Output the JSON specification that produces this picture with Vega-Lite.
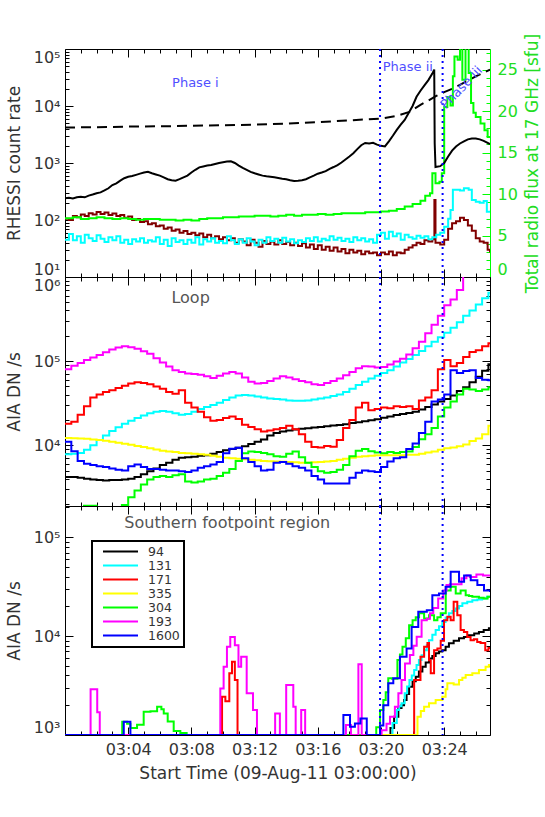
{
"$schema": "https://vega.github.io/schema/vega-lite/v6.json",
"autosize": {"type": "none"},
"padding": {"left": 65, "top": 49, "right": 480, "bottom": 768},
"background": "white",
"spacing": 0,
"bounds": "flush",
"datasets": {
"bk": [{"t":0,"v":240},{"t":0.25,"v":245},{"t":0.5,"v":238},{"t":0.75,"v":250},{"t":1,"v":255},{"t":1.25,"v":250},{"t":1.5,"v":268},{"t":1.75,"v":280},{"t":2,"v":295},{"t":2.25,"v":305},{"t":2.5,"v":330},{"t":2.75,"v":360},{"t":3,"v":410},{"t":3.25,"v":440},{"t":3.5,"v":490},{"t":3.75,"v":540},{"t":4,"v":575},{"t":4.25,"v":590},{"t":4.5,"v":620},{"t":4.75,"v":650},{"t":5,"v":680},{"t":5.25,"v":700},{"t":5.5,"v":660},{"t":5.75,"v":630},{"t":6,"v":600},{"t":6.25,"v":560},{"t":6.5,"v":520},{"t":6.75,"v":500},{"t":7,"v":490},{"t":7.25,"v":520},{"t":7.5,"v":560},{"t":7.75,"v":600},{"t":8,"v":680},{"t":8.25,"v":760},{"t":8.5,"v":840},{"t":8.75,"v":870},{"t":9,"v":900},{"t":9.25,"v":920},{"t":9.5,"v":960},{"t":9.75,"v":1000},{"t":10,"v":1030},{"t":10.25,"v":1060},{"t":10.5,"v":1070},{"t":10.75,"v":1000},{"t":11,"v":900},{"t":11.25,"v":820},{"t":11.5,"v":760},{"t":11.75,"v":700},{"t":12,"v":660},{"t":12.25,"v":630},{"t":12.5,"v":600},{"t":12.75,"v":585},{"t":13,"v":575},{"t":13.25,"v":560},{"t":13.5,"v":545},{"t":13.75,"v":530},{"t":14,"v":520},{"t":14.25,"v":500},{"t":14.5,"v":485},{"t":14.75,"v":490},{"t":15,"v":500},{"t":15.25,"v":520},{"t":15.5,"v":560},{"t":15.75,"v":600},{"t":16,"v":650},{"t":16.25,"v":680},{"t":16.5,"v":720},{"t":16.75,"v":790},{"t":17,"v":850},{"t":17.25,"v":920},{"t":17.5,"v":1020},{"t":17.75,"v":1150},{"t":18,"v":1300},{"t":18.25,"v":1480},{"t":18.5,"v":1750},{"t":18.75,"v":2050},{"t":19,"v":2250},{"t":19.25,"v":2200},{"t":19.5,"v":2260},{"t":19.75,"v":2100},{"t":20,"v":2000},{"t":20.25,"v":1950},{"t":20.5,"v":2400},{"t":20.75,"v":3000},{"t":21,"v":3800},{"t":21.25,"v":4700},{"t":21.5,"v":5700},{"t":21.75,"v":7500},{"t":22,"v":10000},{"t":22.25,"v":14500},{"t":22.5,"v":18500},{"t":22.75,"v":23000},{"t":23,"v":28500},{"t":23.25,"v":37000},{"t":23.37,"v":43600},{"t":23.4,"v":2200},{"t":23.45,"v":850},{"t":23.75,"v":880},{"t":24,"v":1000},{"t":24.25,"v":1300},{"t":24.5,"v":1650},{"t":24.75,"v":1950},{"t":25,"v":2200},{"t":25.25,"v":2400},{"t":25.5,"v":2600},{"t":25.75,"v":2700},{"t":26,"v":2700},{"t":26.25,"v":2600},{"t":26.5,"v":2450},{"t":26.75,"v":2250},{"t":26.9,"v":2140}],
"bg": [{"t":0,"v":4200},{"t":2,"v":4250},{"t":4,"v":4350},{"t":6,"v":4400},{"t":8,"v":4500},{"t":10,"v":4600},{"t":12,"v":4700},{"t":14,"v":4900},{"t":16,"v":5200},{"t":18,"v":5600},{"t":19,"v":5800},{"t":20,"v":6000},{"t":21,"v":6700},{"t":21.8,"v":7900},{"t":22.5,"v":10500},{"t":23,"v":12500},{"t":23.5,"v":15000},{"t":24,"v":17500},{"t":24.5,"v":20000},{"t":25,"v":23500},{"t":25.5,"v":28000},{"t":26,"v":33000},{"t":26.5,"v":38500},{"t":26.9,"v":43600}],
"mr": [{"t":0,"v":105},{"t":0.25,"v":100},{"t":0.5,"v":118},{"t":0.75,"v":112},{"t":1,"v":125},{"t":1.25,"v":118},{"t":1.5,"v":132},{"t":1.75,"v":125},{"t":2,"v":138},{"t":2.25,"v":128},{"t":2.5,"v":135},{"t":2.75,"v":122},{"t":3,"v":130},{"t":3.25,"v":118},{"t":3.5,"v":122},{"t":3.75,"v":110},{"t":4,"v":115},{"t":4.25,"v":100},{"t":4.5,"v":104},{"t":4.75,"v":92},{"t":5,"v":95},{"t":5.25,"v":84},{"t":5.5,"v":88},{"t":5.75,"v":78},{"t":6,"v":80},{"t":6.25,"v":70},{"t":6.5,"v":74},{"t":6.75,"v":65},{"t":7,"v":68},{"t":7.25,"v":60},{"t":7.5,"v":64},{"t":7.75,"v":57},{"t":8,"v":60},{"t":8.25,"v":54},{"t":8.5,"v":58},{"t":8.75,"v":50},{"t":9,"v":55},{"t":9.25,"v":48},{"t":9.5,"v":52},{"t":9.75,"v":46},{"t":10,"v":50},{"t":10.25,"v":44},{"t":10.5,"v":48},{"t":10.75,"v":40},{"t":11,"v":46},{"t":11.25,"v":42},{"t":11.5,"v":36},{"t":11.75,"v":45},{"t":12,"v":40},{"t":12.25,"v":34},{"t":12.5,"v":43},{"t":12.75,"v":38},{"t":13,"v":42},{"t":13.25,"v":37},{"t":13.5,"v":44},{"t":13.75,"v":38},{"t":14,"v":41},{"t":14.25,"v":36},{"t":14.5,"v":40},{"t":14.75,"v":35},{"t":15,"v":39},{"t":15.25,"v":33},{"t":15.5,"v":37},{"t":15.75,"v":31},{"t":16,"v":36},{"t":16.25,"v":30},{"t":16.5,"v":34},{"t":16.75,"v":29},{"t":17,"v":33},{"t":17.25,"v":28},{"t":17.5,"v":31},{"t":17.75,"v":26},{"t":18,"v":30},{"t":18.25,"v":27},{"t":18.5,"v":29},{"t":18.75,"v":25},{"t":19,"v":28},{"t":19.25,"v":26},{"t":19.5,"v":27},{"t":19.75,"v":24},{"t":20,"v":27},{"t":20.25,"v":25},{"t":20.5,"v":28},{"t":20.75,"v":24},{"t":21,"v":27},{"t":21.25,"v":26},{"t":21.5,"v":30},{"t":21.75,"v":33},{"t":22,"v":36},{"t":22.25,"v":40},{"t":22.5,"v":38},{"t":22.75,"v":44},{"t":23,"v":42},{"t":23.25,"v":46},{"t":23.38,"v":224},{"t":23.45,"v":40},{"t":23.75,"v":37},{"t":24,"v":45},{"t":24.25,"v":70},{"t":24.5,"v":88},{"t":24.75,"v":95},{"t":25,"v":110},{"t":25.25,"v":100},{"t":25.5,"v":80},{"t":25.75,"v":65},{"t":26,"v":48},{"t":26.25,"v":42},{"t":26.5,"v":40},{"t":26.75,"v":30},{"t":26.9,"v":27}],
"cy": [{"t":0,"v":45},{"t":0.25,"v":57},{"t":0.5,"v":44},{"t":0.75,"v":52},{"t":1,"v":40},{"t":1.25,"v":55},{"t":1.5,"v":48},{"t":1.75,"v":43},{"t":2,"v":54},{"t":2.25,"v":47},{"t":2.5,"v":41},{"t":2.75,"v":50},{"t":3,"v":44},{"t":3.25,"v":52},{"t":3.5,"v":40},{"t":3.75,"v":45},{"t":4,"v":38},{"t":4.25,"v":46},{"t":4.5,"v":42},{"t":4.75,"v":48},{"t":5,"v":40},{"t":5.25,"v":44},{"t":5.5,"v":42},{"t":5.75,"v":50},{"t":6,"v":38},{"t":6.25,"v":45},{"t":6.5,"v":35},{"t":6.75,"v":48},{"t":7,"v":41},{"t":7.25,"v":44},{"t":7.5,"v":38},{"t":7.75,"v":45},{"t":8,"v":40},{"t":8.25,"v":50},{"t":8.5,"v":37},{"t":8.75,"v":46},{"t":9,"v":42},{"t":9.25,"v":48},{"t":9.5,"v":40},{"t":9.75,"v":43},{"t":10,"v":39},{"t":10.25,"v":52},{"t":10.5,"v":44},{"t":10.75,"v":38},{"t":11,"v":46},{"t":11.25,"v":40},{"t":11.5,"v":48},{"t":11.75,"v":42},{"t":12,"v":36},{"t":12.25,"v":45},{"t":12.5,"v":40},{"t":12.75,"v":50},{"t":13,"v":43},{"t":13.25,"v":47},{"t":13.5,"v":40},{"t":13.75,"v":49},{"t":14,"v":42},{"t":14.25,"v":46},{"t":14.5,"v":39},{"t":14.75,"v":44},{"t":15,"v":41},{"t":15.25,"v":48},{"t":15.5,"v":43},{"t":15.75,"v":50},{"t":16,"v":42},{"t":16.25,"v":47},{"t":16.5,"v":44},{"t":16.75,"v":52},{"t":17,"v":45},{"t":17.25,"v":49},{"t":17.5,"v":43},{"t":17.75,"v":47},{"t":18,"v":41},{"t":18.25,"v":50},{"t":18.5,"v":44},{"t":18.75,"v":48},{"t":19,"v":42},{"t":19.25,"v":46},{"t":19.5,"v":40},{"t":19.75,"v":55},{"t":20,"v":60},{"t":20.25,"v":47},{"t":20.5,"v":62},{"t":20.75,"v":52},{"t":21,"v":58},{"t":21.25,"v":45},{"t":21.5,"v":55},{"t":21.75,"v":50},{"t":22,"v":47},{"t":22.25,"v":53},{"t":22.5,"v":49},{"t":22.75,"v":52},{"t":23,"v":46},{"t":23.25,"v":50},{"t":23.5,"v":55},{"t":23.75,"v":60},{"t":24,"v":76},{"t":24.25,"v":105},{"t":24.4,"v":150},{"t":24.55,"v":340},{"t":25,"v":330},{"t":25.25,"v":360},{"t":25.55,"v":340},{"t":25.75,"v":224},{"t":26,"v":210},{"t":26.25,"v":200},{"t":26.5,"v":215},{"t":26.7,"v":140},{"t":26.9,"v":140}],
"gr": [{"t":0,"v":7.1},{"t":0.5,"v":7.2},{"t":1,"v":7.0},{"t":1.5,"v":7.1},{"t":2,"v":7.2},{"t":2.5,"v":7.1},{"t":3,"v":7.0},{"t":3.5,"v":7.1},{"t":4,"v":7.0},{"t":4.5,"v":6.9},{"t":5,"v":7.0},{"t":5.5,"v":7.0},{"t":6,"v":6.9},{"t":6.5,"v":6.9},{"t":7,"v":6.8},{"t":7.5,"v":6.9},{"t":8,"v":6.8},{"t":8.5,"v":7.0},{"t":9,"v":7.1},{"t":9.5,"v":7.1},{"t":10,"v":7.2},{"t":10.5,"v":7.2},{"t":11,"v":7.3},{"t":11.5,"v":7.3},{"t":12,"v":7.4},{"t":12.5,"v":7.4},{"t":13,"v":7.3},{"t":13.5,"v":7.4},{"t":14,"v":7.5},{"t":14.5,"v":7.4},{"t":15,"v":7.5},{"t":15.5,"v":7.5},{"t":16,"v":7.6},{"t":16.5,"v":7.5},{"t":17,"v":7.6},{"t":17.5,"v":7.7},{"t":18,"v":7.7},{"t":18.5,"v":7.7},{"t":19,"v":7.8},{"t":19.5,"v":7.8},{"t":20,"v":7.9},{"t":20.5,"v":8.0},{"t":21,"v":8.2},{"t":21.5,"v":8.5},{"t":22,"v":8.8},{"t":22.5,"v":9.2},{"t":22.8,"v":9.8},{"t":23.1,"v":10.1},{"t":23.25,"v":12.5},{"t":23.45,"v":11.3},{"t":23.7,"v":11.5},{"t":23.85,"v":12.5},{"t":24,"v":20.5},{"t":24.2,"v":21.7},{"t":24.4,"v":20.7},{"t":24.55,"v":24.2},{"t":24.65,"v":26.6},{"t":24.85,"v":26.2},{"t":25,"v":30},{"t":25.15,"v":23.8},{"t":25.35,"v":30},{"t":25.55,"v":24.6},{"t":25.7,"v":21},{"t":25.85,"v":19.8},{"t":26,"v":19.3},{"t":26.3,"v":18.5},{"t":26.55,"v":17.7},{"t":26.75,"v":16.9},{"t":26.9,"v":16.9}],
"loop": [
{"t":0,"94":4200,"131":7800,"171":18000,"335":12200,"304":1500,"193":80000,"1600":11000},
{"t":0.4,"94":4200,"131":7900,"171":19000,"335":12100,"304":1500,"193":88000,"1600":8500},
{"t":0.8,"94":4100,"131":8100,"171":23000,"335":12000,"304":1700,"193":95000,"1600":6500},
{"t":1.2,"94":4000,"131":8800,"171":29000,"335":11900,"304":1900,"193":103000,"1600":6000},
{"t":1.6,"94":3900,"131":10000,"171":37000,"335":11700,"304":1900,"193":110000,"1600":5800},
{"t":2.0,"94":3850,"131":11500,"171":40000,"335":11500,"304":1700,"193":118000,"1600":5600},
{"t":2.4,"94":3800,"131":13000,"171":43000,"335":11300,"304":1600,"193":127000,"1600":5500},
{"t":2.8,"94":3850,"131":14700,"171":45000,"335":11000,"304":1600,"193":137000,"1600":5300},
{"t":3.2,"94":3850,"131":16300,"171":48000,"335":10700,"304":1700,"193":145000,"1600":5100},
{"t":3.6,"94":3900,"131":18000,"171":51000,"335":10400,"304":1950,"193":150000,"1600":5000},
{"t":4.0,"94":4000,"131":19500,"171":54000,"335":10100,"304":2400,"193":146000,"1600":5600},
{"t":4.4,"94":4200,"131":21000,"171":56000,"335":9800,"304":2900,"193":140000,"1600":5900},
{"t":4.8,"94":4500,"131":22500,"171":55000,"335":9500,"304":3400,"193":131000,"1600":5500},
{"t":5.2,"94":4900,"131":24000,"171":53000,"335":9200,"304":3900,"193":122000,"1600":5200},
{"t":5.6,"94":5300,"131":25000,"171":50000,"335":8900,"304":4200,"193":108000,"1600":5200},
{"t":6.0,"94":5800,"131":25500,"171":47000,"335":8600,"304":4300,"193":96000,"1600":5100},
{"t":6.4,"94":6200,"131":25000,"171":43000,"335":8400,"304":4200,"193":86000,"1600":5000},
{"t":6.8,"94":6700,"131":24000,"171":41000,"335":8300,"304":4400,"193":78000,"1600":5000},
{"t":7.2,"94":7100,"131":23000,"171":45000,"335":8100,"304":4500,"193":74000,"1600":4900},
{"t":7.6,"94":7200,"131":23500,"171":32000,"335":8000,"304":3700,"193":71000,"1600":4800},
{"t":8.0,"94":7300,"131":25000,"171":28000,"335":7900,"304":3600,"193":70000,"1600":5000},
{"t":8.4,"94":7500,"131":27000,"171":25000,"335":7800,"304":3700,"193":69000,"1600":5400},
{"t":8.8,"94":7600,"131":28500,"171":21500,"335":7700,"304":3900,"193":66000,"1600":5600},
{"t":9.2,"94":7900,"131":30000,"171":19500,"335":7500,"304":4000,"193":63000,"1600":5900},
{"t":9.6,"94":8300,"131":32000,"171":20000,"335":7300,"304":4300,"193":67000,"1600":6300},
{"t":10.0,"94":8700,"131":34500,"171":21000,"335":7100,"304":4700,"193":71000,"1600":8000},
{"t":10.4,"94":9000,"131":37000,"171":22000,"335":7000,"304":5200,"193":74000,"1600":9100},
{"t":10.8,"94":9300,"131":39000,"171":20500,"335":6900,"304":6500,"193":71000,"1600":9300},
{"t":11.2,"94":9700,"131":39500,"171":17500,"335":6800,"304":8000,"193":64000,"1600":7000},
{"t":11.6,"94":10300,"131":39000,"171":16500,"335":6700,"304":8400,"193":57000,"1600":6300},
{"t":12.0,"94":11000,"131":38000,"171":15500,"335":6600,"304":8300,"193":54000,"1600":5600},
{"t":12.4,"94":11700,"131":37000,"171":14500,"335":6500,"304":8100,"193":55000,"1600":5000},
{"t":12.8,"94":13000,"131":36000,"171":15000,"335":6450,"304":7800,"193":58000,"1600":5100},
{"t":13.2,"94":14000,"131":35500,"171":15500,"335":6400,"304":7400,"193":62000,"1600":6200},
{"t":13.6,"94":14500,"131":35000,"171":16000,"335":6350,"304":7300,"193":66000,"1600":6300},
{"t":14.0,"94":15000,"131":34000,"171":17000,"335":6300,"304":7900,"193":64000,"1600":6000},
{"t":14.4,"94":15400,"131":33800,"171":15500,"335":6250,"304":8400,"193":61000,"1600":5600},
{"t":14.8,"94":15700,"131":33800,"171":13500,"335":6200,"304":7200,"193":58000,"1600":5400},
{"t":15.2,"94":15900,"131":34000,"171":11000,"335":6200,"304":6200,"193":56000,"1600":5000},
{"t":15.6,"94":16200,"131":35000,"171":9500,"335":6250,"304":5500,"193":53000,"1600":4300},
{"t":16.0,"94":16500,"131":36000,"171":9400,"335":6300,"304":4900,"193":52000,"1600":3900},
{"t":16.4,"94":16800,"131":37000,"171":9800,"335":6400,"304":4700,"193":55000,"1600":3500},
{"t":16.8,"94":17100,"131":38500,"171":9600,"335":6500,"304":4800,"193":58000,"1600":3500},
{"t":17.2,"94":17400,"131":40000,"171":11500,"335":6700,"304":5100,"193":62000,"1600":3500},
{"t":17.6,"94":17800,"131":43000,"171":16000,"335":6900,"304":5800,"193":68000,"1600":3500},
{"t":18.0,"94":18300,"131":47000,"171":20000,"335":7100,"304":7400,"193":74000,"1600":4100},
{"t":18.4,"94":18800,"131":52000,"171":28000,"335":7300,"304":8600,"193":82000,"1600":4700},
{"t":18.8,"94":19300,"131":57000,"171":32000,"335":7400,"304":9000,"193":87000,"1600":5000},
{"t":19.2,"94":19800,"131":62000,"171":26000,"335":7500,"304":8500,"193":86000,"1600":4900},
{"t":19.6,"94":20400,"131":67000,"171":27000,"335":7600,"304":8200,"193":84000,"1600":4800},
{"t":20.0,"94":21200,"131":72000,"171":28000,"335":7600,"304":8000,"193":85000,"1600":5500},
{"t":20.4,"94":22000,"131":78000,"171":27500,"335":7600,"304":8300,"193":91000,"1600":6400},
{"t":20.8,"94":22800,"131":86000,"171":29000,"335":7600,"304":8100,"193":99000,"1600":7000},
{"t":21.2,"94":23500,"131":96000,"171":28500,"335":7600,"304":8300,"193":107000,"1600":7200},
{"t":21.6,"94":24200,"131":106000,"171":29000,"335":7700,"304":8400,"193":120000,"1600":9000},
{"t":22.0,"94":25000,"131":118000,"171":27000,"335":7700,"304":9500,"193":142000,"1600":10500},
{"t":22.4,"94":26500,"131":132000,"171":34000,"335":7900,"304":11800,"193":170000,"1600":14000},
{"t":22.8,"94":28500,"131":150000,"171":37000,"335":8200,"304":13500,"193":215000,"1600":19000},
{"t":23.2,"94":30500,"131":170000,"171":45000,"335":8400,"304":16000,"193":270000,"1600":33000},
{"t":23.6,"94":33000,"131":192000,"171":80000,"335":8800,"304":22000,"193":345000,"1600":35000},
{"t":24.0,"94":35500,"131":218000,"171":103000,"335":9200,"304":28000,"193":460000,"1600":40000},
{"t":24.4,"94":39000,"131":250000,"171":87000,"335":9400,"304":33000,"193":540000,"1600":78000},
{"t":24.8,"94":44000,"131":290000,"171":95000,"335":9700,"304":40000,"193":700000,"1600":72000},
{"t":25.2,"94":49000,"131":345000,"171":112000,"335":10200,"304":47000,"193":1500000,"1600":76000},
{"t":25.6,"94":56000,"131":400000,"171":128000,"335":11200,"304":46000,"193":1800000,"1600":78000},
{"t":26.0,"94":65000,"131":470000,"171":135000,"335":12000,"304":44000,"193":2000000,"1600":63000},
{"t":26.4,"94":77000,"131":560000,"171":150000,"335":13500,"304":46000,"193":2200000,"1600":60000},
{"t":26.8,"94":92000,"131":650000,"171":163000,"335":17000,"304":49000,"193":2400000,"1600":59000},
{"t":26.9,"94":94000,"131":670000,"171":163000,"335":17400,"304":49000,"193":2400000,"1600":59000}
],
"foot": [
{"ch":"94","t":0,"v":1000},{"ch":"94","t":20.6,"v":1180},{"ch":"94","t":20.83,"v":1530},{"ch":"94","t":21.1,"v":1870},{"ch":"94","t":21.3,"v":2000},{"ch":"94","t":21.46,"v":2260},{"ch":"94","t":21.62,"v":2600},{"ch":"94","t":21.78,"v":3070},{"ch":"94","t":22.0,"v":3500},{"ch":"94","t":22.2,"v":3880},{"ch":"94","t":22.4,"v":4400},{"ch":"94","t":22.62,"v":4900},{"ch":"94","t":22.83,"v":5400},{"ch":"94","t":23.04,"v":5950},{"ch":"94","t":23.25,"v":6300},{"ch":"94","t":23.46,"v":6700},{"ch":"94","t":23.67,"v":7000},{"ch":"94","t":23.88,"v":7200},{"ch":"94","t":24.09,"v":7800},{"ch":"94","t":24.3,"v":8450},{"ch":"94","t":24.6,"v":9000},{"ch":"94","t":24.94,"v":9500},{"ch":"94","t":25.25,"v":9800},{"ch":"94","t":25.57,"v":10200},{"ch":"94","t":25.9,"v":10600},{"ch":"94","t":26.2,"v":11000},{"ch":"94","t":26.5,"v":11500},{"ch":"94","t":26.83,"v":12000},{"ch":"94","t":26.9,"v":12000},
{"ch":"131","t":0,"v":1000},{"ch":"131","t":20.73,"v":1320},{"ch":"131","t":21.0,"v":1790},{"ch":"131","t":21.15,"v":1950},{"ch":"131","t":21.3,"v":2100},{"ch":"131","t":21.5,"v":2640},{"ch":"131","t":21.65,"v":3100},{"ch":"131","t":21.8,"v":3600},{"ch":"131","t":21.95,"v":4000},{"ch":"131","t":22.1,"v":4540},{"ch":"131","t":22.25,"v":5100},{"ch":"131","t":22.4,"v":5730},{"ch":"131","t":22.57,"v":6400},{"ch":"131","t":22.73,"v":7200},{"ch":"131","t":22.9,"v":8100},{"ch":"131","t":23.04,"v":9100},{"ch":"131","t":23.25,"v":10300},{"ch":"131","t":23.46,"v":11500},{"ch":"131","t":23.67,"v":12600},{"ch":"131","t":23.88,"v":13900},{"ch":"131","t":24.09,"v":15400},{"ch":"131","t":24.3,"v":17000},{"ch":"131","t":24.52,"v":18000},{"ch":"131","t":24.73,"v":19000},{"ch":"131","t":24.94,"v":20200},{"ch":"131","t":25.15,"v":21500},{"ch":"131","t":25.46,"v":22300},{"ch":"131","t":25.78,"v":23000},{"ch":"131","t":26.1,"v":23500},{"ch":"131","t":26.4,"v":24000},{"ch":"131","t":26.7,"v":25000},{"ch":"131","t":26.9,"v":25000},
{"ch":"171","t":0,"v":1000},{"ch":"171","t":9.94,"v":2440},{"ch":"171","t":10.15,"v":2200},{"ch":"171","t":10.4,"v":4200},{"ch":"171","t":10.57,"v":5500},{"ch":"171","t":10.75,"v":3600},{"ch":"171","t":10.92,"v":1000},{"ch":"171","t":22.1,"v":3600},{"ch":"171","t":22.5,"v":6200},{"ch":"171","t":22.73,"v":7800},{"ch":"171","t":22.94,"v":8500},{"ch":"171","t":23.04,"v":5700},{"ch":"171","t":23.15,"v":4200},{"ch":"171","t":23.36,"v":7200},{"ch":"171","t":23.57,"v":7500},{"ch":"171","t":23.78,"v":9000},{"ch":"171","t":23.99,"v":14500},{"ch":"171","t":24.2,"v":15700},{"ch":"171","t":24.41,"v":14500},{"ch":"171","t":24.6,"v":22300},{"ch":"171","t":24.83,"v":16300},{"ch":"171","t":25.04,"v":11500},{"ch":"171","t":25.25,"v":11000},{"ch":"171","t":25.46,"v":9800},{"ch":"171","t":25.67,"v":9100},{"ch":"171","t":25.88,"v":9300},{"ch":"171","t":26.09,"v":8700},{"ch":"171","t":26.3,"v":8500},{"ch":"171","t":26.6,"v":7200},{"ch":"171","t":26.8,"v":7600},{"ch":"171","t":26.9,"v":7600},
{"ch":"335","t":0,"v":1000},{"ch":"335","t":22.31,"v":1530},{"ch":"335","t":22.52,"v":1750},{"ch":"335","t":22.73,"v":1930},{"ch":"335","t":23.04,"v":2100},{"ch":"335","t":23.46,"v":2260},{"ch":"335","t":23.88,"v":2440},{"ch":"335","t":24.09,"v":2900},{"ch":"335","t":24.2,"v":3330},{"ch":"335","t":24.6,"v":3250},{"ch":"335","t":24.94,"v":3600},{"ch":"335","t":25.15,"v":3800},{"ch":"335","t":25.36,"v":4050},{"ch":"335","t":25.78,"v":4200},{"ch":"335","t":26.2,"v":4540},{"ch":"335","t":26.62,"v":4900},{"ch":"335","t":26.83,"v":5100},{"ch":"335","t":26.9,"v":5100},
{"ch":"304","t":0,"v":1000},{"ch":"304","t":3.62,"v":1360},{"ch":"304","t":3.93,"v":1300},{"ch":"304","t":4.14,"v":1180},{"ch":"304","t":4.56,"v":1270},{"ch":"304","t":4.98,"v":1720},{"ch":"304","t":5.41,"v":1740},{"ch":"304","t":5.83,"v":1930},{"ch":"304","t":6.1,"v":1820},{"ch":"304","t":6.25,"v":1650},{"ch":"304","t":6.5,"v":1370},{"ch":"304","t":6.88,"v":1100},{"ch":"304","t":7.3,"v":1050},{"ch":"304","t":7.7,"v":1000},{"ch":"304","t":19.7,"v":1200},{"ch":"304","t":19.94,"v":1790},{"ch":"304","t":20.15,"v":2260},{"ch":"304","t":20.3,"v":2700},{"ch":"304","t":20.46,"v":3750},{"ch":"304","t":20.7,"v":3700},{"ch":"304","t":21.04,"v":5730},{"ch":"304","t":21.2,"v":6500},{"ch":"304","t":21.36,"v":7800},{"ch":"304","t":21.57,"v":9500},{"ch":"304","t":21.78,"v":12900},{"ch":"304","t":22.0,"v":14500},{"ch":"304","t":22.2,"v":15500},{"ch":"304","t":22.41,"v":17000},{"ch":"304","t":22.73,"v":15100},{"ch":"304","t":23.04,"v":16300},{"ch":"304","t":23.36,"v":14500},{"ch":"304","t":23.57,"v":15500},{"ch":"304","t":23.78,"v":17000},{"ch":"304","t":24.1,"v":29000},{"ch":"304","t":24.41,"v":31500},{"ch":"304","t":24.73,"v":27000},{"ch":"304","t":25.04,"v":29000},{"ch":"304","t":25.36,"v":25900},{"ch":"304","t":25.57,"v":25500},{"ch":"304","t":25.78,"v":25000},{"ch":"304","t":26.2,"v":24500},{"ch":"304","t":26.5,"v":24000},{"ch":"304","t":26.75,"v":25000},{"ch":"304","t":26.9,"v":25000},
{"ch":"193","t":0,"v":1000},{"ch":"193","t":1.62,"v":2900},{"ch":"193","t":2.04,"v":1700},{"ch":"193","t":2.2,"v":1000},{"ch":"193","t":9.83,"v":2950},{"ch":"193","t":10.04,"v":4900},{"ch":"193","t":10.25,"v":7800},{"ch":"193","t":10.46,"v":9800},{"ch":"193","t":10.75,"v":8100},{"ch":"193","t":10.98,"v":4900},{"ch":"193","t":11.15,"v":6200},{"ch":"193","t":11.5,"v":2640},{"ch":"193","t":11.9,"v":1790},{"ch":"193","t":12.15,"v":1000},{"ch":"193","t":13.3,"v":1650},{"ch":"193","t":13.6,"v":1000},{"ch":"193","t":14.0,"v":3200},{"ch":"193","t":14.45,"v":1930},{"ch":"193","t":14.6,"v":1000},{"ch":"193","t":14.95,"v":1790},{"ch":"193","t":15.2,"v":1000},{"ch":"193","t":17.78,"v":1260},{"ch":"193","t":18.1,"v":1000},{"ch":"193","t":18.57,"v":5200},{"ch":"193","t":18.78,"v":1000},{"ch":"193","t":20.04,"v":1120},{"ch":"193","t":20.35,"v":1300},{"ch":"193","t":20.57,"v":1530},{"ch":"193","t":20.88,"v":1930},{"ch":"193","t":21.1,"v":2640},{"ch":"193","t":21.3,"v":3600},{"ch":"193","t":21.52,"v":5300},{"ch":"193","t":21.83,"v":6430},{"ch":"193","t":22.05,"v":8000},{"ch":"193","t":22.26,"v":9840},{"ch":"193","t":22.57,"v":14500},{"ch":"193","t":22.9,"v":15000},{"ch":"193","t":23.1,"v":17000},{"ch":"193","t":23.31,"v":19200},{"ch":"193","t":23.62,"v":24000},{"ch":"193","t":23.94,"v":29000},{"ch":"193","t":24.15,"v":32800},{"ch":"193","t":24.36,"v":33500},{"ch":"193","t":24.8,"v":33500},{"ch":"193","t":25.1,"v":38500},{"ch":"193","t":25.41,"v":41000},{"ch":"193","t":25.62,"v":39600},{"ch":"193","t":26.04,"v":42000},{"ch":"193","t":26.46,"v":41000},{"ch":"193","t":26.9,"v":41000},
{"ch":"1600","t":0,"v":1000},{"ch":"1600","t":3.72,"v":1360},{"ch":"1600","t":4.14,"v":1000},{"ch":"1600","t":17.62,"v":1590},{"ch":"1600","t":18.04,"v":1210},{"ch":"1600","t":18.35,"v":1310},{"ch":"1600","t":18.7,"v":1470},{"ch":"1600","t":19.1,"v":1000},{"ch":"1600","t":19.94,"v":1250},{"ch":"1600","t":20.15,"v":2000},{"ch":"1600","t":20.46,"v":3330},{"ch":"1600","t":20.78,"v":3740},{"ch":"1600","t":21.2,"v":6180},{"ch":"1600","t":21.62,"v":7500},{"ch":"1600","t":21.94,"v":12400},{"ch":"1600","t":22.36,"v":17600},{"ch":"1600","t":22.9,"v":18300},{"ch":"1600","t":23.25,"v":25900},{"ch":"1600","t":23.67,"v":27000},{"ch":"1600","t":24.09,"v":31500},{"ch":"1600","t":24.41,"v":44700},{"ch":"1600","t":24.94,"v":35500},{"ch":"1600","t":25.26,"v":41000},{"ch":"1600","t":25.68,"v":36700},{"ch":"1600","t":26.1,"v":32800},{"ch":"1600","t":26.52,"v":29000},{"ch":"1600","t":26.9,"v":28000}
]
},
"vconcat": [
{
"width": 425, "height": 228,
"layer": [
{"data": {"name": "bk"}, "mark": {"type": "point", "opacity": 0},
 "encoding": {
  "x": {"field": "t", "type": "quantitative", "scale": {"domain": [0, 26.9], "nice": false, "zero": false}, "axis": {"orient": "bottom", "values": [4,8,12,16,20,24], "tickSize": -8, "labels": false, "title": null}},
  "y": {"field": "v", "type": "quantitative", "scale": {"type": "log", "domain": [10, 100000], "nice": false}, "axis": {"orient": "left", "values": [10,100,1000,10000,100000], "tickSize": -8, "labelPadding": 13, "labelFlush": true, "labelOverlap": false, "labelExpr": "'10' + ['⁰','¹','²','³','⁴','⁵','⁶'][round(log(datum.value)/LN10)]", "title": "RHESSI count rate", "titlePadding": 10}}
 }},
{"data": {"name": "bk"}, "mark": {"type": "point", "opacity": 0},
 "encoding": {
  "x": {"field": "t", "type": "quantitative", "scale": {"domain": [0, 26.9], "nice": false, "zero": false}, "axis": {"orient": "bottom", "values": [1,2,3,5,6,7,9,10,11,13,14,15,17,18,19,21,22,23,25,26], "tickSize": -4, "labels": false, "domain": false, "title": null}},
  "y": {"field": "v", "type": "quantitative", "scale": {"type": "log", "domain": [10, 100000], "nice": false}, "axis": {"orient": "left", "values": [20,30,40,50,60,70,80,90,200,300,400,500,600,700,800,900,2000,3000,4000,5000,6000,7000,8000,9000,20000,30000,40000,50000,60000,70000,80000,90000], "tickSize": -4, "labels": false, "domain": false, "title": null}}
 }},
{"data": {"name": "gr"}, "mark": {"type": "point", "opacity": 0},
 "encoding": {
  "x": {"field": "t", "type": "quantitative", "scale": {"domain": [0, 26.9], "nice": false, "zero": false}, "axis": {"orient": "top", "values": [4,8,12,16,20,24], "tickSize": -8, "labels": false, "title": null}},
  "y": {"field": "v", "type": "quantitative", "scale": {"domain": [0, 27.5], "nice": false, "zero": false}, "axis": {"orient": "right", "values": [0,5,10,15,20,25], "tickSize": -8, "labelPadding": 15, "labelFlush": true, "labelColor": "#22dd22", "domainColor": "#00ff00", "tickColor": "#00ff00", "title": "Total radio flux at 17 GHz [sfu]", "titleColor": "#22dd22", "titleAngle": 270, "titlePadding": 24}}
 }},
{"data": {"name": "gr"}, "mark": {"type": "point", "opacity": 0},
 "encoding": {
  "x": {"field": "t", "type": "quantitative", "scale": {"domain": [0, 26.9], "nice": false, "zero": false}, "axis": {"orient": "top", "values": [1,2,3,5,6,7,9,10,11,13,14,15,17,18,19,21,22,23,25,26], "tickSize": -4, "labels": false, "domain": false, "title": null}},
  "y": {"field": "v", "type": "quantitative", "scale": {"domain": [0, 27.5], "nice": false, "zero": false}, "axis": {"orient": "right", "values": [1,2,3,4,6,7,8,9,11,12,13,14,16,17,18,19,21,22,23,24,26,27], "tickSize": -4, "labels": false, "domain": false, "tickColor": "#00ff00", "title": null}}
 }},
{"data": {"name": "bg"}, "mark": {"type": "line", "color": "#000000", "strokeWidth": 2, "strokeDash": [10, 6], "clip": true},
 "encoding": {
  "x": {"field": "t", "type": "quantitative", "scale": {"domain": [0, 26.9], "nice": false, "zero": false}, "axis": null},
  "y": {"field": "v", "type": "quantitative", "scale": {"type": "log", "domain": [10, 100000], "nice": false}, "axis": null}
 }},
{"data": {"name": "mr"}, "mark": {"type": "line", "color": "#800000", "strokeWidth": 2, "interpolate": "step-after", "clip": true},
 "encoding": {
  "x": {"field": "t", "type": "quantitative", "scale": {"domain": [0, 26.9], "nice": false, "zero": false}, "axis": null},
  "y": {"field": "v", "type": "quantitative", "scale": {"type": "log", "domain": [10, 100000], "nice": false}, "axis": null}
 }},
{"data": {"name": "cy"}, "mark": {"type": "line", "color": "#00ffff", "strokeWidth": 2, "interpolate": "step-after", "clip": true},
 "encoding": {
  "x": {"field": "t", "type": "quantitative", "scale": {"domain": [0, 26.9], "nice": false, "zero": false}, "axis": null},
  "y": {"field": "v", "type": "quantitative", "scale": {"type": "log", "domain": [10, 100000], "nice": false}, "axis": null}
 }},
{"data": {"name": "gr"}, "mark": {"type": "line", "color": "#00ff00", "strokeWidth": 2, "interpolate": "step-after", "clip": true},
 "encoding": {
  "x": {"field": "t", "type": "quantitative", "scale": {"domain": [0, 26.9], "nice": false, "zero": false}, "axis": null},
  "y": {"field": "v", "type": "quantitative", "scale": {"domain": [0, 27.5], "nice": false, "zero": false}, "axis": null}
 }},
{"data": {"name": "bk"}, "mark": {"type": "line", "color": "#000000", "strokeWidth": 2, "clip": true},
 "encoding": {
  "x": {"field": "t", "type": "quantitative", "scale": {"domain": [0, 26.9], "nice": false, "zero": false}, "axis": null},
  "y": {"field": "v", "type": "quantitative", "scale": {"type": "log", "domain": [10, 100000], "nice": false}, "axis": null}
 }},
{"data": {"values": [{"t": 19.94}, {"t": 23.9}]}, "mark": {"type": "rule", "color": "#0000ff", "strokeWidth": 2, "strokeDash": [2, 4]},
 "encoding": {"x": {"field": "t", "type": "quantitative", "scale": {"domain": [0, 26.9], "nice": false, "zero": false}, "axis": null}}},
{"data": {"values": [{"t": 8.25, "v": 25000, "label": "Phase i"}, {"t": 21.7, "v": 48000, "label": "Phase ii"}]},
 "mark": {"type": "text", "color": "#5050ff", "fontSize": 13, "font": "DejaVu Sans", "align": "center", "baseline": "middle"},
 "encoding": {
  "x": {"field": "t", "type": "quantitative", "scale": {"domain": [0, 26.9], "nice": false, "zero": false}, "axis": null},
  "y": {"field": "v", "type": "quantitative", "scale": {"type": "log", "domain": [10, 100000], "nice": false}, "axis": null},
  "text": {"field": "label"}
 }},
{"data": {"values": [{"t": 25.1, "v": 21000, "label": "Phase iii"}]},
 "mark": {"type": "text", "color": "#5050ff", "fontSize": 13, "font": "DejaVu Sans", "align": "center", "baseline": "middle", "angle": 314},
 "encoding": {
  "x": {"field": "t", "type": "quantitative", "scale": {"domain": [0, 26.9], "nice": false, "zero": false}, "axis": null},
  "y": {"field": "v", "type": "quantitative", "scale": {"type": "log", "domain": [10, 100000], "nice": false}, "axis": null},
  "text": {"field": "label"}
 }}
],
"resolve": {"scale": {"y": "independent"}, "axis": {"x": "independent", "y": "independent"}}
},
{
"width": 425, "height": 229,
"data": {"name": "loop"},
"transform": [{"fold": ["94","131","171","335","304","193","1600"], "as": ["ch", "v"]}],
"layer": [
{"mark": {"type": "point", "opacity": 0},
 "encoding": {
  "x": {"field": "t", "type": "quantitative", "scale": {"domain": [0, 26.9], "nice": false, "zero": false}, "axis": {"orient": "bottom", "values": [4,8,12,16,20,24], "tickSize": -8, "labels": false, "title": null}},
  "y": {"field": "v", "type": "quantitative", "scale": {"type": "log", "domain": [1892, 1000000], "nice": false}, "axis": {"orient": "left", "values": [10000,100000,1000000], "tickSize": -8, "labelPadding": 13, "labelFlush": true, "labelOverlap": false, "labelExpr": "'10' + ['⁰','¹','²','³','⁴','⁵','⁶'][round(log(datum.value)/LN10)]", "title": "AIA DN  /s", "titlePadding": 10}}
 }},
{"mark": {"type": "point", "opacity": 0},
 "encoding": {
  "x": {"field": "t", "type": "quantitative", "scale": {"domain": [0, 26.9], "nice": false, "zero": false}, "axis": {"orient": "bottom", "values": [1,2,3,5,6,7,9,10,11,13,14,15,17,18,19,21,22,23,25,26], "tickSize": -4, "labels": false, "domain": false, "title": null}},
  "y": {"field": "v", "type": "quantitative", "scale": {"type": "log", "domain": [1892, 1000000], "nice": false}, "axis": {"orient": "left", "values": [2000,3000,4000,5000,6000,7000,8000,9000,20000,30000,40000,50000,60000,70000,80000,90000,200000,300000,400000,500000,600000,700000,800000,900000], "tickSize": -4, "labels": false, "domain": false, "title": null}}
 }},
{"mark": {"type": "point", "opacity": 0},
 "encoding": {
  "x": {"field": "t", "type": "quantitative", "scale": {"domain": [0, 26.9], "nice": false, "zero": false}, "axis": {"orient": "top", "values": [4,8,12,16,20,24], "tickSize": -8, "labels": false, "title": null}},
  "y": {"field": "v", "type": "quantitative", "scale": {"type": "log", "domain": [1892, 1000000], "nice": false}, "axis": {"orient": "right", "values": [10000,100000,1000000], "tickSize": -8, "labels": false, "title": null}}
 }},
{"mark": {"type": "point", "opacity": 0},
 "encoding": {
  "x": {"field": "t", "type": "quantitative", "scale": {"domain": [0, 26.9], "nice": false, "zero": false}, "axis": {"orient": "top", "values": [1,2,3,5,6,7,9,10,11,13,14,15,17,18,19,21,22,23,25,26], "tickSize": -4, "labels": false, "domain": false, "title": null}},
  "y": {"field": "v", "type": "quantitative", "scale": {"type": "log", "domain": [1892, 1000000], "nice": false}, "axis": {"orient": "right", "values": [2000,3000,4000,5000,6000,7000,8000,9000,20000,30000,40000,50000,60000,70000,80000,90000,200000,300000,400000,500000,600000,700000,800000,900000], "tickSize": -4, "labels": false, "domain": false, "title": null}}
 }},
{"mark": {"type": "line", "strokeWidth": 2, "interpolate": "step-after", "clip": true},
 "encoding": {
  "x": {"field": "t", "type": "quantitative", "scale": {"domain": [0, 26.9], "nice": false, "zero": false}, "axis": null},
  "y": {"field": "v", "type": "quantitative", "scale": {"type": "log", "domain": [1892, 1000000], "nice": false}, "axis": null},
  "color": {"field": "ch", "type": "nominal", "scale": {"domain": ["94","131","171","335","304","193","1600"], "range": ["#000000","#00ffff","#ff0000","#ffff00","#00ff00","#ff00ff","#0000ff"]}, "legend": {"title": null}}
 }},
{"data": {"values": [{"t": 19.94}, {"t": 23.9}]}, "mark": {"type": "rule", "color": "#0000ff", "strokeWidth": 2, "strokeDash": [2, 4]},
 "encoding": {"x": {"field": "t", "type": "quantitative", "scale": {"domain": [0, 26.9], "nice": false, "zero": false}, "axis": null}}},
{"data": {"values": [{"t": 7.95, "v": 562000, "label": "Loop"}]},
 "mark": {"type": "text", "color": "#555555", "fontSize": 16, "font": "DejaVu Sans", "align": "center", "baseline": "middle"},
 "encoding": {
  "x": {"field": "t", "type": "quantitative", "scale": {"domain": [0, 26.9], "nice": false, "zero": false}, "axis": null},
  "y": {"field": "v", "type": "quantitative", "scale": {"type": "log", "domain": [1892, 1000000], "nice": false}, "axis": null},
  "text": {"field": "label"}
 }}
],
"resolve": {"axis": {"x": "independent", "y": "independent"}}
},
{
"width": 425, "height": 229,
"data": {"name": "foot"},
"layer": [
{"mark": {"type": "point", "opacity": 0},
 "encoding": {
  "x": {"field": "t", "type": "quantitative", "scale": {"domain": [0, 26.9], "nice": false, "zero": false}, "axis": {"orient": "bottom", "values": [4,8,12,16,20,24], "tickSize": -8, "labelPadding": 14, "labelFlush": false, "labelExpr": "'03:' + (datum.value < 10 ? '0' : '') + datum.value", "title": "Start Time (09-Aug-11 03:00:00)", "titlePadding": 8}},
  "y": {"field": "v", "type": "quantitative", "scale": {"type": "log", "domain": [1000, 207000], "nice": false}, "axis": {"orient": "left", "values": [1000,10000,100000], "tickSize": -8, "labelPadding": 13, "labelFlush": true, "labelOverlap": false, "labelExpr": "'10' + ['⁰','¹','²','³','⁴','⁵','⁶'][round(log(datum.value)/LN10)]", "title": "AIA DN  /s", "titlePadding": 10}}
 }},
{"mark": {"type": "point", "opacity": 0},
 "encoding": {
  "x": {"field": "t", "type": "quantitative", "scale": {"domain": [0, 26.9], "nice": false, "zero": false}, "axis": {"orient": "bottom", "values": [1,2,3,5,6,7,9,10,11,13,14,15,17,18,19,21,22,23,25,26], "tickSize": -4, "labels": false, "domain": false, "title": null}},
  "y": {"field": "v", "type": "quantitative", "scale": {"type": "log", "domain": [1000, 207000], "nice": false}, "axis": {"orient": "left", "values": [2000,3000,4000,5000,6000,7000,8000,9000,20000,30000,40000,50000,60000,70000,80000,90000,200000], "tickSize": -4, "labels": false, "domain": false, "title": null}}
 }},
{"mark": {"type": "point", "opacity": 0},
 "encoding": {
  "x": {"field": "t", "type": "quantitative", "scale": {"domain": [0, 26.9], "nice": false, "zero": false}, "axis": {"orient": "top", "values": [4,8,12,16,20,24], "tickSize": -8, "labels": false, "title": null}},
  "y": {"field": "v", "type": "quantitative", "scale": {"type": "log", "domain": [1000, 207000], "nice": false}, "axis": {"orient": "right", "values": [1000,10000,100000], "tickSize": -8, "labels": false, "title": null}}
 }},
{"mark": {"type": "point", "opacity": 0},
 "encoding": {
  "x": {"field": "t", "type": "quantitative", "scale": {"domain": [0, 26.9], "nice": false, "zero": false}, "axis": {"orient": "top", "values": [1,2,3,5,6,7,9,10,11,13,14,15,17,18,19,21,22,23,25,26], "tickSize": -4, "labels": false, "domain": false, "title": null}},
  "y": {"field": "v", "type": "quantitative", "scale": {"type": "log", "domain": [1000, 207000], "nice": false}, "axis": {"orient": "right", "values": [2000,3000,4000,5000,6000,7000,8000,9000,20000,30000,40000,50000,60000,70000,80000,90000,200000], "tickSize": -4, "labels": false, "domain": false, "title": null}}
 }},
{"mark": {"type": "line", "strokeWidth": 2, "interpolate": "step-after", "clip": true},
 "encoding": {
  "x": {"field": "t", "type": "quantitative", "scale": {"domain": [0, 26.9], "nice": false, "zero": false}, "axis": null},
  "y": {"field": "v", "type": "quantitative", "scale": {"type": "log", "domain": [1000, 207000], "nice": false}, "axis": null},
  "color": {"field": "ch", "type": "nominal", "scale": {"domain": ["94","131","171","335","304","193","1600"], "range": ["#000000","#00ffff","#ff0000","#ffff00","#00ff00","#ff00ff","#0000ff"]}, "legend": {"title": null}}
 }},
{"data": {"values": [{"t": 19.94}, {"t": 23.9}]}, "mark": {"type": "rule", "color": "#0000ff", "strokeWidth": 2, "strokeDash": [2, 4]},
 "encoding": {"x": {"field": "t", "type": "quantitative", "scale": {"domain": [0, 26.9], "nice": false, "zero": false}, "axis": null}}},
{"data": {"values": [{"t": 10.27, "v": 138000, "label": "Southern footpoint region"}]},
 "mark": {"type": "text", "color": "#555555", "fontSize": 16, "font": "DejaVu Sans", "align": "center", "baseline": "middle"},
 "encoding": {
  "x": {"field": "t", "type": "quantitative", "scale": {"domain": [0, 26.9], "nice": false, "zero": false}, "axis": null},
  "y": {"field": "v", "type": "quantitative", "scale": {"type": "log", "domain": [1000, 207000], "nice": false}, "axis": null},
  "text": {"field": "label"}
 }}
],
"resolve": {"axis": {"x": "independent", "y": "independent"}}
}
],
"config": {
 "view": {"stroke": null},
 "font": "DejaVu Sans",
 "axis": {"grid": false, "domainColor": "#000000", "tickColor": "#000000", "labelColor": "#333333", "titleColor": "#333333", "labelFont": "DejaVu Sans", "titleFont": "DejaVu Sans", "labelFontSize": 16, "titleFontSize": 17, "titleFontWeight": "normal", "tickWidth": 1, "domainWidth": 1},
 "legend": {"orient": "none", "legendX": 27, "legendY": 492, "strokeColor": "#000000", "strokeWidth": 2, "fillColor": "#ffffff", "padding": 4, "symbolType": "stroke", "symbolSize": 1225, "symbolStrokeWidth": 2, "clipHeight": 13.2, "rowPadding": 0, "labelFont": "DejaVu Sans", "labelFontSize": 12.5, "labelColor": "#333333", "symbolOffset": 6, "labelOffset": 9}
}
}
